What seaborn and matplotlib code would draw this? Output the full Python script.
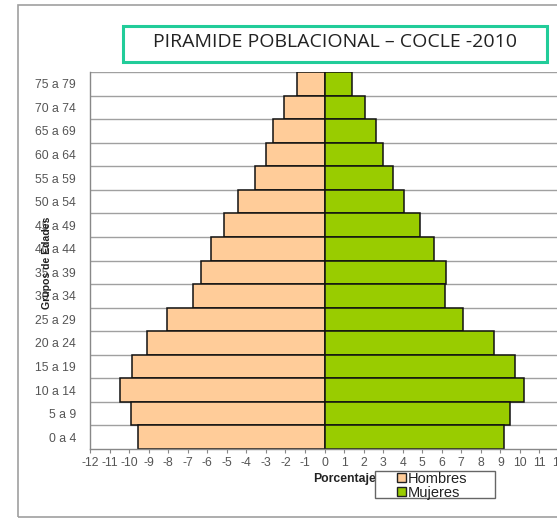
import matplotlib
matplotlib.use("Agg")
import matplotlib.pyplot as plt
import seaborn as sns
import pandas as pd
from matplotlib.patches import Rectangle, Patch

groups = ["75 a 79", "70 a 74", "65 a 69", "60 a 64", "55 a 59", "50 a 54",
          "45 a 49", "40 a 44", "35 a 39", "30 a 34", "25 a 29", "20 a 24",
          "15 a 19", "10 a 14", "5 a 9", "0 a 4"]
hombres = [1.40, 2.08, 2.62, 3.00, 3.58, 4.43, 5.15, 5.83, 6.30, 6.72,
           8.08, 9.06, 9.87, 10.48, 9.92, 9.54]
mujeres = [1.41, 2.06, 2.64, 3.00, 3.48, 4.09, 4.87, 5.59, 6.24, 6.15,
           7.07, 8.66, 9.73, 10.19, 9.47, 9.17]
xticks = list(range(-12, 13))

sns.set_theme(style="white")
plt.rcParams['font.family'] = ['Liberation Sans', 'DejaVu Sans']

df = pd.DataFrame({
    "grupo": groups * 2,
    "sexo": ["Hombres"] * len(groups) + ["Mujeres"] * len(groups),
    "valor": [-v for v in hombres] + mujeres,
})

W, H = 557, 520
fig = plt.figure(figsize=(W / 100, H / 100), dpi=100)
ax = fig.add_axes([90 / W, 1 - 449 / H, (559 - 90) / W, (449 - 72) / H])

colors = {"Hombres": "#FFCC99", "Mujeres": "#99CC00"}
sns.barplot(data=df, y="grupo", x="valor", hue="sexo", order=groups,
            hue_order=["Hombres", "Mujeres"], palette=colors, dodge=False,
            orient="h", width=1.0, edgecolor="#111111", linewidth=1.1,
            saturation=1, legend=False, ax=ax)

ax.set_xlim(-12, 12)
ax.set_ylim(len(groups) - 0.5, -0.5)
ax.set_xticks(xticks)
ax.set_xticklabels([str(t) for t in xticks], fontsize=8.8, color="#555555")
ax.tick_params(axis="x", length=3, width=0.8, color="#888888", pad=3, direction="out", bottom=True)
ax.tick_params(axis="y", length=0, labelsize=8.8, labelcolor="#555555", pad=10)

# band boundary gridlines
for i in range(len(groups)):
    ax.axhline(i - 0.5, color="#A0A0A0", lw=1.0, zorder=0.5)
ax.set_axisbelow(True)

for s in ["top", "right"]:
    ax.spines[s].set_visible(False)
ax.spines["left"].set_color("#888888")
ax.spines["left"].set_linewidth(1.0)
ax.spines["bottom"].set_color("#888888")
ax.spines["bottom"].set_linewidth(1.0)

ax.set_ylabel("")
ax.set_xlabel("")
fig.text(47 / W, 1 - 263 / H, "Grupos de Edades", rotation=90, ha="center", va="center",
         fontsize=7.6, fontweight="bold", color="#222222")
fig.text(313 / W, 1 - 479 / H, "Porcentaje", ha="left", va="center",
         fontsize=8.8, fontweight="bold", color="#222222", zorder=1)

# legend box (covers the end of the x label, as in the reference)
fig.patches.append(Rectangle((375 / W, 1 - 498 / H), (495 - 375) / W, (498 - 471) / H,
                             transform=fig.transFigure, facecolor="white",
                             edgecolor="#666666", lw=1.0, zorder=2))
handles = [Patch(facecolor=colors["Hombres"], edgecolor="#222222", lw=1.0, label="Hombres"),
           Patch(facecolor=colors["Mujeres"], edgecolor="#222222", lw=1.0, label="Mujeres")]
leg = fig.legend(handles=handles, loc="center left",
                 bbox_to_anchor=(397 / W, 1 - 486 / H),
                 fontsize=10.5, frameon=False,
                 handlelength=0.6, handleheight=0.6, handletextpad=0.15,
                 borderpad=0.0, labelspacing=0.0, borderaxespad=0)
leg.set_zorder(3)
for t in leg.get_texts():
    t.set_color("#222222")

# outer frame
fig.patches.append(Rectangle((18 / W, 1 - 517 / H), (W + 20 - 18) / W, (517 - 5) / H,
                             transform=fig.transFigure, fill=False, edgecolor="#A0A0A0",
                             lw=1.2, zorder=0))
# title box
fig.patches.append(Rectangle((123 / W, 1 - 62 / H), (547 - 123) / W, (62 - 26) / H,
                             transform=fig.transFigure, fill=False, edgecolor="#22CC99",
                             lw=2.2, zorder=1))
fig.text(335 / W, 1 - 42 / H, "PIRAMIDE POBLACIONAL \u2013 COCLE -2010", ha="center", va="center",
         fontsize=14, color="#222222", family=["Open Sans", "DejaVu Sans"])

fig.savefig("out.png", dpi=100)
